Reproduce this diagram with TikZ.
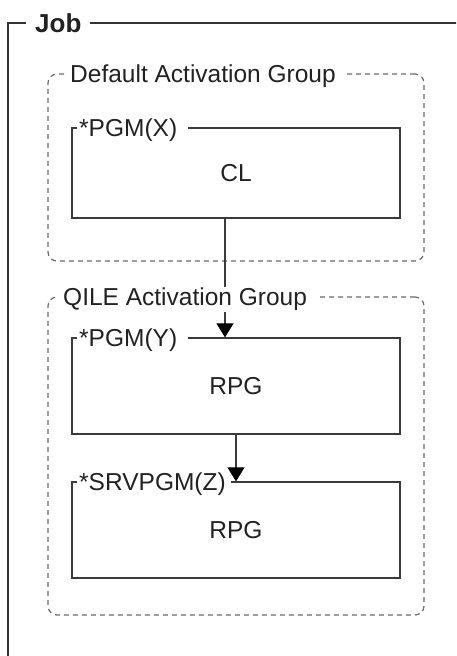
\documentclass[tikz,border=0pt]{standalone}
\usepackage{fontspec}
\setmainfont{Liberation Sans}
\usetikzlibrary{arrows.meta}
\definecolor{boxc}{HTML}{3A3A3A}
\definecolor{dashc}{HTML}{6A6A6A}
\definecolor{txtc}{HTML}{222222}
\definecolor{jobc}{HTML}{333333}
\begin{document}
\begin{tikzpicture}[x=1pt,y=-1pt,
  lbl/.style={font=\fontsize{24.5}{28}\selectfont, fill=white, inner xsep=3pt, inner ysep=1pt, anchor=base west, text=txtc},
  grp/.style={draw=dashc, dash pattern=on 5pt off 4pt, line width=1.2pt, rounded corners=9pt, inner sep=0pt},
  pbox/.style={draw=boxc, line width=1.3pt, inner sep=0pt, font=\fontsize{24.5}{28}\selectfont, text=txtc},
  conn/.style={draw=boxc, line width=1.1pt, -{Triangle[width=17pt,length=14pt,color=black]}},
]
\useasboundingbox (0,0) rectangle (456,656);
% Job frame
\begin{scope}
\clip (0,0) rectangle (456,656);
\draw[line width=2.4pt, draw=jobc] (8,23) rectangle (490,700);
\end{scope}
% groups
\node[grp, minimum width=376pt, minimum height=187pt] (dag) at (236,167.5) {};
\node[grp, minimum width=376pt, minimum height=318pt] (qag) at (236,456) {};
% program boxes
\node[pbox, minimum width=328pt, minimum height=90pt] (pgmx) at (236,173) {CL};
\node[pbox, minimum width=328pt, minimum height=96pt] (pgmy) at (236,386) {RPG};
\node[pbox, minimum width=328pt, minimum height=96pt] (srv) at (236,530) {RPG};
% connector 1 (behind the QILE label)
\coordinate (c1) at (225,0);
\draw[conn] (c1 |- pgmx.south) -- (c1 |- pgmy.north);
% labels
\node[lbl, font=\bfseries\fontsize{26}{30}\selectfont, inner xsep=9pt] (joblbl) at (26,32) {Job};
\node[lbl, inner xsep=4pt] (daglbl) at (66,82) {Default Activation Group\kern5pt};
\node[lbl, inner xsep=2pt] (xlbl) at (77,136.5) {*PGM(X)\kern9pt};
\node[lbl, inner xsep=4pt] (qaglbl) at (59,305.5) {QILE Activation Group\kern6pt};
\node[lbl, inner xsep=2pt] (ylbl) at (77,346.5) {*PGM(Y)\kern9pt};
\node[lbl, inner xsep=2pt] (zlbl) at (77,490.5) {*SRVPGM(Z)\kern3pt};
% connector 2
\draw[conn] (pgmy.south) -- (srv.north);
\end{tikzpicture}
\end{document}
